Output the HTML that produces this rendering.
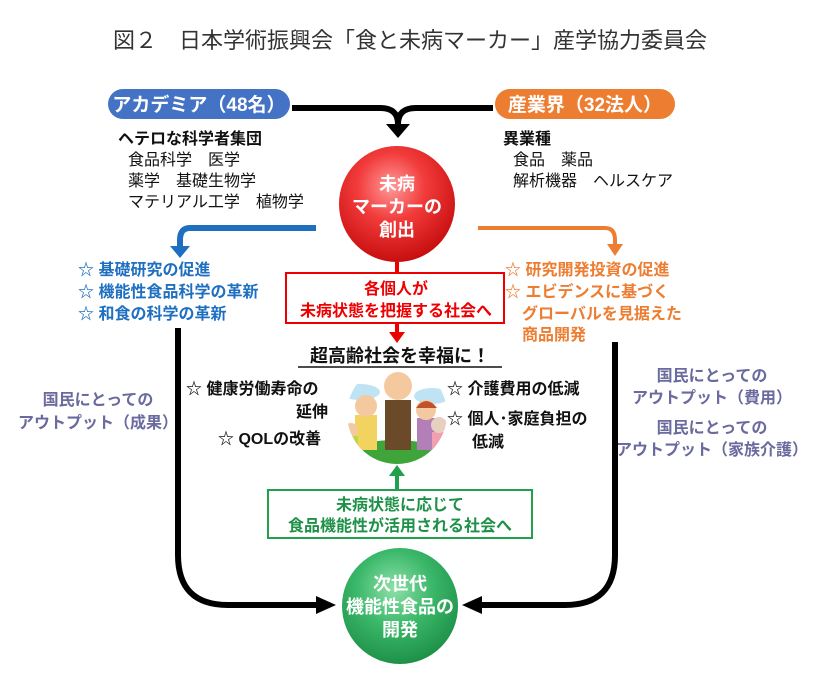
<!DOCTYPE html>
<html><head><meta charset="utf-8"><style>
html,body{margin:0;padding:0;background:#fff}
svg{display:block}
text{font-family:"Liberation Sans","Noto Sans CJK JP",sans-serif}
.b{font-weight:bold}
</style></head><body>
<svg width="820" height="700" viewBox="0 0 820 700" xmlns="http://www.w3.org/2000/svg">
<defs>
<radialGradient id="rg" cx="45%" cy="35%" r="65%"><stop offset="0" stop-color="#ff9a9a"/><stop offset="0.45" stop-color="#f23b3b"/><stop offset="1" stop-color="#c80f0f"/></radialGradient>
<radialGradient id="gg" cx="45%" cy="35%" r="65%"><stop offset="0" stop-color="#8ee0a8"/><stop offset="0.5" stop-color="#3bb86a"/><stop offset="1" stop-color="#1e9148"/></radialGradient>
<clipPath id="ic"><circle cx="397" cy="414" r="50"/></clipPath>
</defs>
<text x="410" y="48" text-anchor="middle" font-size="22" fill="#333">図２　日本学術振興会「食と未病マーカー」産学協力委員会</text>

<rect x="108" y="89" width="182" height="30" rx="15" fill="#4472c4"/>
<text x="199" y="111" text-anchor="middle" font-size="19" fill="#fff" class="b">アカデミア（48名）</text>
<rect x="495" y="89" width="180" height="30" rx="15" fill="#ed7d31"/>
<text x="585" y="111" text-anchor="middle" font-size="19" fill="#fff" class="b">産業界（32法人）</text>

<path d="M292 108 H380 Q398 108 398 124 M493 108 H416 Q398 108 398 124" stroke="#000" stroke-width="6" fill="none"/>
<polygon points="386,124 410,124 398,138" fill="#000"/>

<g font-size="16" fill="#111">
<text x="118" y="144" class="b">ヘテロな科学者集団</text>
<text x="128" y="165">食品科学　医学</text>
<text x="128" y="186">薬学　基礎生物学</text>
<text x="128" y="207">マテリアル工学　植物学</text>
<text x="503" y="144" class="b">異業種</text>
<text x="513" y="165">食品　薬品</text>
<text x="513" y="186">解析機器　ヘルスケア</text>
</g>

<circle cx="397" cy="204" r="58" fill="url(#rg)"/>
<g font-size="18" fill="#fff" class="b" text-anchor="middle">
<text x="397" y="190">未病</text><text x="397" y="213">マーカーの</text><text x="397" y="236">創出</text></g>

<path d="M316 228 H190 Q180 228 180 240 V248" stroke="#1f6fc1" stroke-width="6" fill="none"/>
<polygon points="170,246 190,246 180,258" fill="#1f6fc1"/>
<path d="M478 228 H605 Q615 228 615 240 V246" stroke="#ed7d31" stroke-width="4" fill="none"/>
<polygon points="607,244 623,244 615,256" fill="#ed7d31"/>

<g font-size="16" fill="#1f6fc1" class="b">
<text x="78" y="275">☆ 基礎研究の促進</text>
<text x="78" y="297">☆ 機能性食品科学の革新</text>
<text x="78" y="319">☆ 和食の科学の革新</text></g>
<g font-size="16" fill="#ed7d31" class="b">
<text x="505" y="275">☆ 研究開発投資の促進</text>
<text x="505" y="297">☆ エビデンスに基づく</text>
<text x="522" y="319">グローバルを見据えた</text>
<text x="522" y="340">商品開発</text></g>

<line x1="397" y1="262" x2="397" y2="272" stroke="#e00" stroke-width="4"/>
<rect x="286" y="273" width="218" height="50" fill="#fff" stroke="#e00" stroke-width="2"/>
<g font-size="16" fill="#e00" class="b" text-anchor="middle">
<text x="396" y="294">各個人が</text><text x="396" y="316">未病状態を把握する社会へ</text></g>
<line x1="397" y1="323" x2="397" y2="333" stroke="#e00" stroke-width="4"/>
<polygon points="389,332 405,332 397,343" fill="#e00"/>

<text x="400" y="362" text-anchor="middle" font-size="18" class="b" fill="#111">超高齢社会を幸福に！</text>
<line x1="298" y1="367" x2="502" y2="367" stroke="#111" stroke-width="1.5"/>

<g font-size="16" fill="#111" class="b">
<text x="186" y="394">☆ 健康労働寿命の</text>
<text x="296" y="417">延伸</text>
<text x="218" y="444">☆ QOLの改善</text>
<text x="447" y="394">☆ 介護費用の低減</text>
<text x="447" y="424">☆ 個人･家庭負担の</text>
<text x="472" y="447">低減</text></g>

<g clip-path="url(#ic)">
<ellipse cx="395" cy="470" rx="70" ry="30" fill="#3fa53a"/>
<ellipse cx="360" cy="392" rx="20" ry="8" fill="#bfe3f2"/>
<ellipse cx="432" cy="396" rx="18" ry="8" fill="#bfe3f2"/>
<rect x="385" y="400" width="26" height="50" fill="#6b4a2a"/>
<circle cx="398" cy="386" r="14" fill="#f4c9a0"/>
<rect x="355" y="415" width="22" height="35" fill="#f2d35f"/>
<circle cx="366" cy="406" r="11" fill="#f4c9a0"/>
<rect x="417" y="418" width="20" height="32" fill="#b27fb8"/>
<circle cx="426" cy="410" r="10" fill="#f4c9a0"/>
<path d="M416 408 Q426 394 437 408" fill="#c2502a"/>
<rect x="432" y="432" width="14" height="22" fill="#f0a0b0"/>
<circle cx="439" cy="425" r="8" fill="#e8d0c0"/>
<rect x="344" y="436" width="14" height="20" fill="#b8d84a"/>
<circle cx="351" cy="430" r="7" fill="#f4c9a0"/>
</g>

<line x1="397" y1="474" x2="397" y2="489" stroke="#22a04b" stroke-width="4"/>
<polygon points="389,476 405,476 397,465" fill="#22a04b"/>
<rect x="268" y="490" width="264" height="48" fill="#fff" stroke="#22a04b" stroke-width="2"/>
<g font-size="16" fill="#1e9148" class="b" text-anchor="middle">
<text x="400" y="510">未病状態に応じて</text><text x="400" y="531">食品機能性が活用される社会へ</text></g>

<g font-size="16" fill="#6a6a9e" class="b" text-anchor="middle">
<text x="98" y="405">国民にとっての</text><text x="98" y="428">アウトプット（成果）</text>
<text x="712" y="381">国民にとっての</text><text x="712" y="403">アウトプット（費用）</text>
<text x="712" y="433">国民にとっての</text><text x="712" y="455">アウトプット（家族介護）</text></g>

<path d="M178 328 V555 Q178 605 228 605 H318" stroke="#000" stroke-width="6" fill="none"/>
<polygon points="316,596 336,605 316,614" fill="#000"/>
<path d="M615 342 V555 Q615 605 565 605 H480" stroke="#000" stroke-width="6" fill="none"/>
<polygon points="482,596 462,605 482,614" fill="#000"/>

<circle cx="400" cy="606" r="58" fill="url(#gg)"/>
<g font-size="18" fill="#fff" class="b" text-anchor="middle">
<text x="400" y="590">次世代</text><text x="400" y="613">機能性食品の</text><text x="400" y="636">開発</text></g>
</svg>
</body></html>
